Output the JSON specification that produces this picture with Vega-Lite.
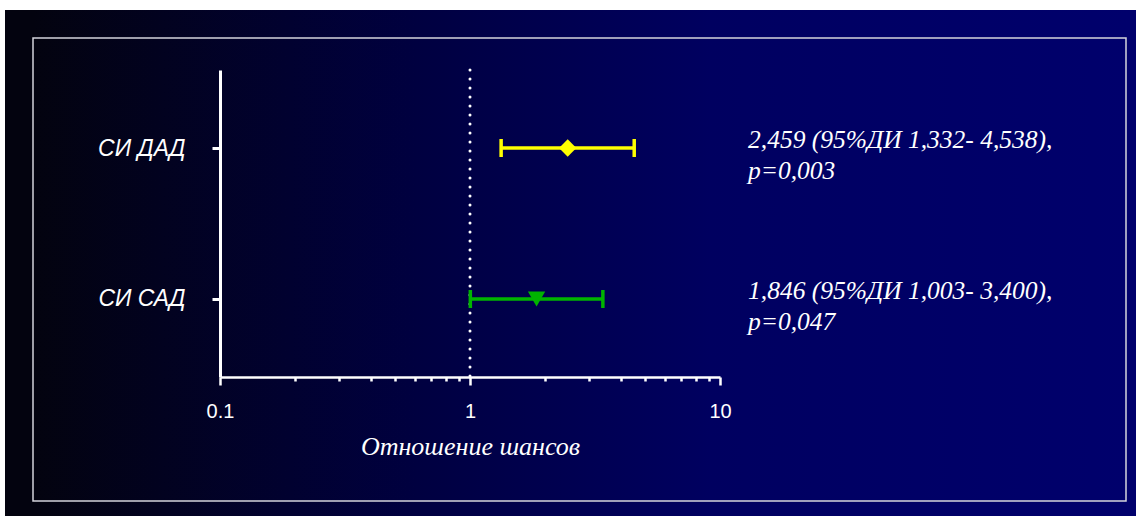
{
  "$schema": "https://vega.github.io/schema/vega-lite/v6.json",
  "width": 1093,
  "height": 463,
  "autosize": {"type": "none"},
  "padding": {"left": 33, "top": 38, "right": 10, "bottom": 15},
  "background": "white",
  "config": {"view": {"stroke": null}},
  "data": {
    "values": [
      {"row": 1, "label": "СИ ДАД", "or": 2.459, "lo": 1.332, "hi": 4.538, "note": "2,459  (95%ДИ 1,332- 4,538),\np=0,003"},
      {"row": 2, "label": "СИ САД", "or": 1.846, "lo": 1.003, "hi": 3.4, "note": "1,846  (95%ДИ  1,003- 3,400),\np=0,047"}
    ]
  },
  "layer": [
    {
      "data": {"values": [{}]},
      "mark": {
        "type": "rect",
        "fill": {"gradient": "linear", "x1": 0, "y1": 0, "x2": 1, "y2": 0, "stops": [
          {"offset": 0, "color": "#03030f"},
          {"offset": 0.35, "color": "#000040"},
          {"offset": 0.62, "color": "#000060"},
          {"offset": 1, "color": "#00006c"}
        ]},
        "stroke": {"gradient": "linear", "x1": 0, "y1": 0, "x2": 1, "y2": 0, "stops": [
          {"offset": 0, "color": "#03030f"},
          {"offset": 0.35, "color": "#000040"},
          {"offset": 0.62, "color": "#000060"},
          {"offset": 1, "color": "#00006c"}
        ]},
        "strokeWidth": 56
      },
      "encoding": {}
    },
    {
      "data": {"values": [{}]},
      "mark": {"type": "rect", "fill": null, "fillOpacity": 0, "stroke": "#d4d4dc", "strokeWidth": 1.5},
      "encoding": {}
    },
    {
      "mark": {"type": "rule", "strokeWidth": 3.5},
      "encoding": {
        "x": {
          "field": "lo",
          "type": "quantitative",
          "scale": {"type": "log", "domain": [0.1, 10], "range": [187, 687]},
          "axis": {
            "orient": "bottom",
            "offset": -124,
            "zindex": 2,
            "values": [0.1, 0.2, 0.3, 0.4, 0.5, 0.6, 0.7, 0.8, 0.9, 1, 2, 3, 4, 5, 6, 7, 8, 9, 10],
            "grid": false,
            "domainColor": "white",
            "domainWidth": 2.5,
            "tickColor": "white",
            "tickWidth": 2.5,
            "tickSize": {"condition": {"test": "datum.value == 0.1 || datum.value == 1 || datum.value == 10", "value": 8}, "value": 4},
            "labelExpr": "datum.value == 0.1 ? '0.1' : datum.value == 1 ? '1' : datum.value == 10 ? '10' : ''",
            "labelOverlap": false,
            "labelFlush": false,
            "labelColor": "white",
            "labelFont": "Liberation Sans",
            "labelFontSize": 20,
            "labelPadding": 16,
            "title": "Отношение шансов",
            "titleColor": "white",
            "titleFont": "Liberation Serif",
            "titleFontStyle": "italic",
            "titleFontWeight": "normal",
            "titleFontSize": 26,
            "titlePadding": 12
          }
        },
        "x2": {"field": "hi"},
        "y": {
          "field": "row",
          "type": "quantitative",
          "scale": {"domain": [0.4834, 2.5166], "range": [32, 339], "zero": false, "nice": false},
          "axis": {
            "orient": "left",
            "offset": -187,
            "zindex": 2,
            "values": [1, 2],
            "grid": false,
            "domainColor": "white",
            "domainWidth": 3,
            "tickColor": "white",
            "tickWidth": 3,
            "tickSize": 8,
            "labelExpr": "datum.value == 1 ? 'СИ ДАД' : 'СИ САД'",
            "labelColor": "white",
            "labelFont": "Liberation Sans",
            "labelFontStyle": "italic",
            "labelFontSize": 23,
            "labelPadding": 27,
            "title": null
          }
        },
        "color": {"field": "label", "type": "nominal", "scale": {"domain": ["СИ ДАД", "СИ САД"], "range": ["#ffff00", "#00b400"]}, "legend": null}
      }
    },
    {
      "data": {"values": [{}]},
      "mark": {"type": "rule", "color": "white", "strokeWidth": 3, "strokeDash": [0.1, 8.9], "strokeCap": "round"},
      "encoding": {
        "x": {"datum": 1, "type": "quantitative", "scale": {"type": "log", "domain": [0.1, 10], "range": [187, 687]}},
        "y": {"datum": 0.4834, "type": "quantitative", "scale": {"domain": [0.4834, 2.5166], "range": [32, 339], "zero": false, "nice": false}},
        "y2": {"datum": 2.5166}
      }
    },
    {
      "mark": {"type": "tick", "orient": "vertical", "thickness": 3.5, "size": 18, "opacity": 1},
      "encoding": {
        "x": {"field": "lo", "type": "quantitative", "scale": {"type": "log", "domain": [0.1, 10], "range": [187, 687]}},
        "y": {"field": "row", "type": "quantitative", "scale": {"domain": [0.4834, 2.5166], "range": [32, 339], "zero": false, "nice": false}},
        "color": {"field": "label", "type": "nominal", "scale": {"domain": ["СИ ДАД", "СИ САД"], "range": ["#ffff00", "#00b400"]}, "legend": null}
      }
    },
    {
      "mark": {"type": "tick", "orient": "vertical", "thickness": 3.5, "size": 18, "opacity": 1},
      "encoding": {
        "x": {"field": "hi", "type": "quantitative", "scale": {"type": "log", "domain": [0.1, 10], "range": [187, 687]}},
        "y": {"field": "row", "type": "quantitative", "scale": {"domain": [0.4834, 2.5166], "range": [32, 339], "zero": false, "nice": false}},
        "color": {"field": "label", "type": "nominal", "scale": {"domain": ["СИ ДАД", "СИ САД"], "range": ["#ffff00", "#00b400"]}, "legend": null}
      }
    },
    {
      "mark": {"type": "point", "filled": true, "opacity": 1, "size": 300},
      "encoding": {
        "x": {"field": "or", "type": "quantitative", "scale": {"type": "log", "domain": [0.1, 10], "range": [187, 687]}},
        "y": {"field": "row", "type": "quantitative", "scale": {"domain": [0.4834, 2.5166], "range": [32, 339], "zero": false, "nice": false}},
        "color": {"field": "label", "type": "nominal", "scale": {"domain": ["СИ ДАД", "СИ САД"], "range": ["#ffff00", "#00b400"]}, "legend": null},
        "shape": {"field": "label", "type": "nominal", "scale": {"domain": ["СИ ДАД", "СИ САД"], "range": ["diamond", "triangle-down"]}, "legend": null}
      }
    },
    {
      "mark": {"type": "text", "align": "left", "baseline": "middle", "dx": 28, "dy": -8, "font": "Liberation Serif", "fontStyle": "italic", "fontSize": 25.5, "color": "white", "lineBreak": "\n", "lineHeight": 31},
      "encoding": {
        "x": {"datum": 10, "type": "quantitative", "scale": {"type": "log", "domain": [0.1, 10], "range": [187, 687]}},
        "y": {"field": "row", "type": "quantitative", "scale": {"domain": [0.4834, 2.5166], "range": [32, 339], "zero": false, "nice": false}},
        "text": {"field": "note"}
      }
    }
  ]
}
